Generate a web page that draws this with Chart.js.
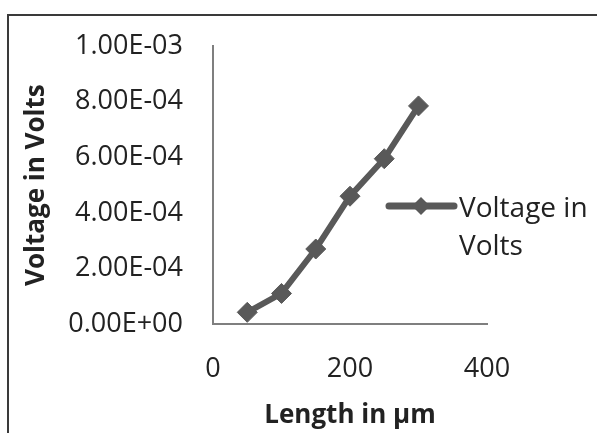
<!DOCTYPE html>
<html>
<head>
<meta charset="utf-8">
<script src="https://cdn.jsdelivr.net/npm/chart.js@4.4.0/dist/chart.umd.min.js"></script>
<style>
  html, body { margin: 0; padding: 0; background: #fff; }
  #wrap { position: relative; width: 597px; height: 433px; overflow: hidden; }
  #frame { position: absolute; left: 7px; top: 14px; right: -10px; bottom: -10px;
           border-top: 2px solid #3a3a3a; border-left: 2px solid #3a3a3a; }
  #chart { position: absolute; left: 0; top: 0; }
</style>
</head>
<body>
<div id="wrap">
  <div id="frame"></div>
  <canvas id="chart" width="597" height="433"></canvas>
</div>
<script>
// data
const lengths = [50, 100, 150, 200, 250, 300];
const voltages = [4.2e-5, 1.1e-4, 2.7e-4, 4.6e-4, 5.95e-4, 7.85e-4];
const yTickLabels = ['0.00E+00', '2.00E-04', '4.00E-04', '6.00E-04', '8.00E-04', '1.00E-03'];
const seriesName = ['Voltage in', 'Volts'];

const lineColor = '#595959';
const textColor = '#222';
const fontFam = '"Open Sans", "DejaVu Sans", sans-serif';

// legend on the right, drawn by hand (two-line label)
const sideLegend = {
  id: 'sideLegend',
  afterDraw(chart) {
    const ctx = chart.ctx;
    const y = 206;
    ctx.save();
    ctx.strokeStyle = lineColor;
    ctx.lineWidth = 7;
    ctx.lineCap = 'round';
    ctx.beginPath();
    ctx.moveTo(389, y);
    ctx.lineTo(454, y);
    ctx.stroke();
    ctx.fillStyle = lineColor;
    ctx.beginPath();
    ctx.moveTo(421, y - 9);
    ctx.lineTo(430, y);
    ctx.lineTo(421, y + 9);
    ctx.lineTo(412, y);
    ctx.closePath();
    ctx.fill();
    ctx.fillStyle = textColor;
    ctx.font = '28px ' + fontFam;
    ctx.textBaseline = 'middle';
    ctx.textAlign = 'left';
    ctx.fillText(seriesName[0], 459, y + 3);
    ctx.fillText(seriesName[1], 459, y + 41);
    ctx.restore();
  }
};

new Chart(document.getElementById('chart').getContext('2d'), {
  type: 'scatter',
  data: {
    datasets: [{
      label: seriesName.join(' '),
      data: lengths.map((x, i) => ({ x: x, y: voltages[i] })),
      showLine: true,
      borderColor: lineColor,
      backgroundColor: lineColor,
      borderWidth: 6,
      pointStyle: 'rectRot',
      pointRadius: 10,
      pointBorderWidth: 1,
      pointBorderColor: lineColor,
      pointBackgroundColor: lineColor
    }]
  },
  options: {
    responsive: false,
    devicePixelRatio: 1,
    animation: false,
    layout: { padding: { top: 41, right: 110, bottom: 0, left: 0 } },
    plugins: {
      legend: { display: false },
      tooltip: { enabled: false }
    },
    scales: {
      x: {
        type: 'linear',
        min: 0,
        max: 400,
        ticks: { stepSize: 200, padding: 29, color: textColor, font: { family: fontFam, size: 27 } },
        grid: { display: false, drawTicks: false },
        border: { display: true, color: '#7f7f7f', width: 2 },
        title: { display: true, text: 'Length in µm', color: textColor,
                 font: { family: fontFam, size: 26, weight: 'bold' }, padding: { top: 0, bottom: 2 } },
        afterFit: s => { s.height = 109; }
      },
      y: {
        min: 0,
        max: 0.001,
        ticks: {
          stepSize: 0.0002,
          padding: 30,
          color: textColor,
          font: { family: fontFam, size: 27 },
          callback: (v, i) => yTickLabels[i]
        },
        grid: { display: false, drawTicks: false },
        border: { display: true, color: '#7f7f7f', width: 2 },
        title: { display: true, text: 'Voltage in Volts', color: textColor,
                 font: { family: fontFam, size: 26, weight: 'bold' }, padding: { top: 21, bottom: 0 } },
        afterFit: s => { s.width = 213; }
      }
    }
  },
  plugins: [sideLegend]
});
</script>
</body>
</html>
